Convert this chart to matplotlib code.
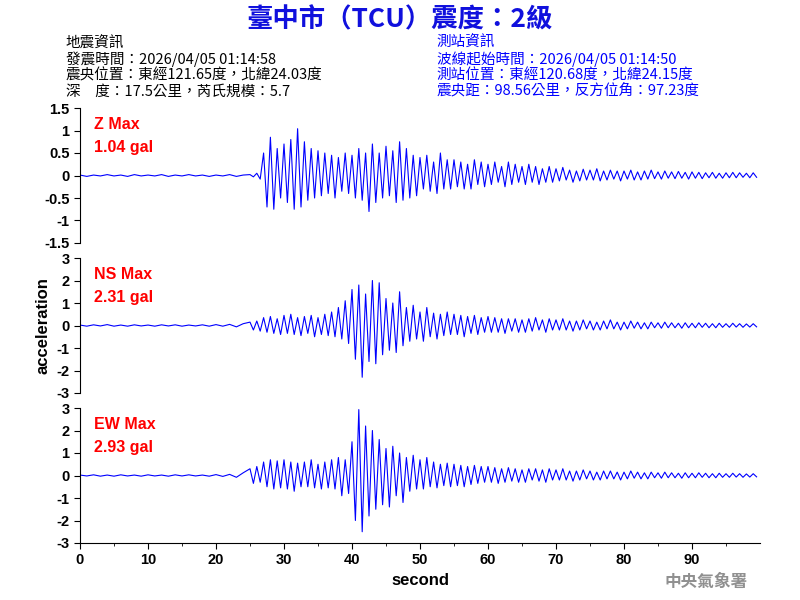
import numpy as np
import matplotlib.pyplot as plt

plt.rcParams['font.family'] = ['Noto Sans CJK TC', 'DejaVu Sans']

# pre-onset noise, 1 s step from 0 to 24
z_pre = [0.01, -0.02, 0.01, -0.01, 0.02, -0.01, 0.01, -0.02, 0.02, -0.01, 0.01, -0.01, 0.02,
         -0.02, 0.01, -0.01, 0.02, -0.01, 0.01, -0.02, 0.01, -0.01, 0.02, -0.02, 0.01]
ns_pre = [0.02, -0.03, 0.03, -0.02, 0.04, -0.03, 0.02, -0.03, 0.03, -0.02, 0.02, -0.03, 0.03,
          -0.02, 0.03, -0.03, 0.02, -0.02, 0.03, -0.03, 0.04, -0.03, 0.05, -0.06, 0.08]
ew_pre = [0.02, -0.02, 0.03, -0.03, 0.02, -0.03, 0.03, -0.02, 0.02, -0.03, 0.03, -0.02, 0.02,
          -0.03, 0.03, -0.02, 0.03, -0.02, 0.02, -0.03, 0.04, -0.04, 0.05, -0.08, 0.12]

# 0.5 s step from 25.0 to 99.5
z_main = [0.02, -0.03, 0.05, -0.08,
          0.5, -0.7, 0.85, -0.75, 0.6, -0.5,
          0.7, -0.6, 0.8, -0.75, 1.04, -0.7,
          0.75, -0.55, 0.6, -0.5, 0.55, -0.45,
          0.5, -0.4, 0.45, -0.5, 0.4, -0.35, 0.5, -0.4,
          0.45, -0.5, 0.6, -0.55, 0.5, -0.8,
          0.7, -0.6, 0.5, -0.5, 0.65, -0.45,
          0.55, -0.6, 0.75, -0.55, 0.6, -0.5, 0.45, -0.45,
          0.4, -0.3, 0.45, -0.35, 0.3, -0.4, 0.5, -0.3, 0.35, -0.3,
          0.35, -0.25, 0.3, -0.3, 0.25, -0.3, 0.35, -0.2, 0.3, -0.25,
          0.25, -0.2, 0.3, -0.15, 0.2, -0.25, 0.3, -0.2, 0.25, -0.15,
          0.2, -0.2, 0.25, -0.15, 0.2, -0.2, 0.15, -0.15, 0.2, -0.15,
          0.15, -0.12, 0.18, -0.1, 0.12, -0.15, 0.1, -0.12, 0.14, -0.1,
          0.12, -0.1, 0.15, -0.12, 0.1, -0.1, 0.12, -0.08, 0.1, -0.12,
          0.1, -0.08, 0.12, -0.1, 0.08, -0.1, 0.1, -0.08, 0.12, -0.07,
          0.08, -0.08, 0.1, -0.06, 0.08, -0.07, 0.09, -0.06, 0.07, -0.08,
          0.08, -0.06, 0.07, -0.07, 0.06, -0.05, 0.07, -0.06, 0.05, -0.06,
          0.06, -0.05, 0.07, -0.05, 0.06, -0.04, 0.05, -0.05, 0.06, -0.04]
ns_main = [0.15, -0.2, 0.2, -0.25,
           0.35, -0.3, 0.4, -0.35, 0.3, -0.4,
           0.45, -0.35, 0.5, -0.4, 0.35, -0.45,
           0.4, -0.35, 0.45, -0.5, 0.35, -0.4,
           0.5, -0.45, 0.6, -0.5, 0.8, -0.6, 1.1, -0.8,
           1.6, -1.5, 1.8, -2.3, 1.4, -1.6,
           2.0, -1.7, 1.9, -1.3, 1.2, -1.1,
           1.0, -1.2, 1.5, -0.9, 0.8, -0.7, 0.9, -0.6,
           0.6, -0.7, 0.8, -0.5, 0.55, -0.6, 0.5, -0.45, 0.6, -0.4,
           0.5, -0.4, 0.45, -0.5, 0.4, -0.35, 0.45, -0.4, 0.35, -0.3,
           0.4, -0.3, 0.35, -0.3, 0.3, -0.35, 0.3, -0.25, 0.3, -0.3,
           0.25, -0.3, 0.3, -0.25, 0.35, -0.2, 0.25, -0.3, 0.3, -0.2,
           0.25, -0.2, 0.3, -0.2, 0.2, -0.25, 0.2, -0.2, 0.25, -0.15,
           0.2, -0.2, 0.15, -0.2, 0.2, -0.15, 0.25, -0.15, 0.15, -0.2,
           0.15, -0.15, 0.2, -0.12, 0.15, -0.15, 0.12, -0.15, 0.15, -0.1,
           0.12, -0.12, 0.15, -0.1, 0.12, -0.1, 0.1, -0.12, 0.12, -0.1,
           0.1, -0.1, 0.12, -0.08, 0.1, -0.1, 0.08, -0.1, 0.1, -0.08,
           0.08, -0.08, 0.1, -0.07, 0.08, -0.08, 0.07, -0.07, 0.08, -0.06]
ew_main = [0.3, -0.35, 0.4, -0.3,
           0.6, -0.5, 0.7, -0.6, 0.65, -0.55,
           0.7, -0.6, 0.6, -0.7, 0.55, -0.5,
           0.6, -0.5, 0.7, -0.55, 0.5, -0.6,
           0.6, -0.55, 0.7, -0.6, 0.8, -0.9, 0.7, -0.8,
           1.5, -2.0, 2.93, -2.5, 2.2, -1.8,
           2.0, -1.5, 1.6, -1.3, 1.2, -1.4,
           1.3, -0.9, 1.0, -1.2, 0.8, -0.7, 0.9, -0.6,
           0.7, -0.6, 0.8, -0.5, 0.6, -0.55, 0.5, -0.45, 0.55, -0.5,
           0.5, -0.45, 0.45, -0.5, 0.4, -0.4, 0.45, -0.35, 0.4, -0.3,
           0.4, -0.3, 0.35, -0.35, 0.3, -0.3, 0.35, -0.25, 0.3, -0.3,
           0.25, -0.3, 0.3, -0.2, 0.3, -0.25, 0.25, -0.3, 0.3, -0.2,
           0.25, -0.2, 0.3, -0.2, 0.2, -0.25, 0.2, -0.2, 0.25, -0.15,
           0.2, -0.2, 0.15, -0.2, 0.2, -0.15, 0.2, -0.15, 0.15, -0.2,
           0.15, -0.15, 0.2, -0.12, 0.15, -0.15, 0.12, -0.15, 0.15, -0.1,
           0.12, -0.12, 0.15, -0.1, 0.12, -0.1, 0.1, -0.12, 0.12, -0.1,
           0.1, -0.1, 0.12, -0.08, 0.1, -0.1, 0.08, -0.1, 0.1, -0.08,
           0.08, -0.08, 0.1, -0.07, 0.08, -0.08, 0.07, -0.07, 0.08, -0.06]

labels = ['Z Max\n1.04 gal', 'NS Max\n2.31 gal', 'EW Max\n2.93 gal']
limits = [1.5, 3, 3]
yticks = [[-1.5, -1, -0.5, 0, 0.5, 1, 1.5], [-3, -2, -1, 0, 1, 2, 3], [-3, -2, -1, 0, 1, 2, 3]]

t = np.concatenate([np.arange(0, 25, 1.0), np.arange(25, 100, 0.5)])
traces = [z_pre + z_main, ns_pre + ns_main, ew_pre + ew_main]

latin = ['Liberation Sans']
fig = plt.figure(figsize=(8, 6), dpi=100)
boxes = [(0.82, 0.595), (0.57, 0.345), (0.32, 0.095)]
axes = []
for i, (top, bot) in enumerate(boxes):
    ax = fig.add_axes([0.1, bot, 0.85, top - bot])
    ax.plot(t, traces[i], color='blue', lw=0.8)
    ax.set_xlim(0, 100)
    ax.set_ylim(-limits[i], limits[i])
    ax.set_yticks(yticks[i])
    ax.set_yticklabels([f'{v:g}' for v in yticks[i]], fontsize=10.5, family=latin, fontweight='bold')
    for s in ['top', 'right']:
        ax.spines[s].set_visible(False)
    ax.tick_params(direction='out', length=4)
    ax.text(0.02, 0.93, labels[i], transform=ax.transAxes, color='red', fontsize=11.5,
            va='top', family=latin, fontweight='bold', linespacing=1.6)
    if i < 2:
        ax.spines['bottom'].set_visible(False)
        ax.set_xticks([])
    else:
        ax.set_xticks(range(0, 100, 10))
        ax.set_xticks(range(0, 100, 5), minor=True)
        ax.set_xticklabels([str(v) for v in range(0, 100, 10)], fontsize=10.5, family=latin,
                           fontweight='bold')
        ax.set_xlabel('second', fontsize=12, family=latin, fontweight='bold')
    axes.append(ax)

axes[1].set_ylabel('acceleration', fontsize=12, family=latin, fontweight='bold')

fig.text(0.5, 0.967, '臺中市（TCU）震度：2級', ha='center', va='center', color='#1010dd',
         fontsize=19, fontweight='bold')
left = ['地震資訊', '發震時間：2026/04/05 01:14:58', '震央位置：東經121.65度，北緯24.03度',
        '深　度：17.5公里，芮氏規模：5.7']
right = ['測站資訊', '波線起始時間：2026/04/05 01:14:50', '測站位置：東經120.68度，北緯24.15度',
         '震央距：98.56公里，反方位角：97.23度']
for k in range(4):
    y = 0.928 - k * 0.0267
    fig.text(0.082, y, left[k], fontsize=10.5, va='center', color='black', fontweight='medium')
    fig.text(0.546, y, right[k], fontsize=10.5, va='center', color='blue', fontweight='medium')
fig.text(0.935, 0.03, '中央氣象署', ha='right', va='center', color='#909090', fontsize=12,
         fontweight='bold')

fig.savefig('out.png', dpi=100)
